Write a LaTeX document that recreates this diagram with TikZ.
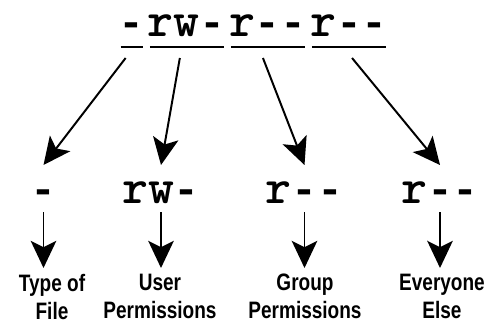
\documentclass[tikz,border=0pt]{standalone}
\usepackage{fontspec}
\newfontfamily\labelfont{Liberation Sans}[FakeStretch=0.8]
\newfontfamily\dashfont{Liberation Mono}
\newcommand{\hy}{{\fontsize{30.7}{30.7}\selectfont\dashfont\bfseries-}}
\usetikzlibrary{arrows.meta,positioning,calc}

\begin{document}
\begin{tikzpicture}[x=0.025cm, y=0.025cm,
  perm/.style = {inner ysep=0pt, inner xsep=1pt, font=\fontsize{35.1}{35.1}\selectfont\ttfamily\bfseries},
  what/.style = {inner sep=0pt, align=center, font=\fontsize{16.9}{19.9}\selectfont\labelfont\bfseries},
  uline/.style = {line width=1.5pt},
  arrow/.style = {line width=1.4pt, -{Stealth[length=0.68cm, width=0.64cm, inset=0.16cm]}}
  ]
\useasboundingbox (0,0) rectangle (484,-329);

% Top row: the whole mode string
\node[perm, anchor=base west] (t1) at (117,-36) {\hy};
\node[perm, anchor=base west] (t2) at (t1.base east) {rw\hy};
\node[perm, anchor=base west] (t3) at (t2.base east) {r\hy\hy};
\node[perm, anchor=base west] (t4) at (t3.base east) {r\hy\hy};

\foreach \n in {t1,t2,t3,t4}
  \draw[uline] ([shift={(3.5,-11)}]\n.base west) -- ([shift={(-3.5,-11)}]\n.base east);

% Middle row: the four parts
\node[perm, anchor=base] (m1) at (43.5,-203) {\hy};
\node[perm, anchor=base] (m2) at (161,-203) {rw\hy};
\node[perm, anchor=base] (m3) at (304.5,-203) {r\hy\hy};
\node[perm, anchor=base] (m4) at (440,-203) {r\hy\hy};

% Bottom row: what each part means
\node[what, anchor=north] (l1) at (52,-274) {Type of\\File};
\node[what, anchor=north] (l2) at (160,-274) {User\\Permissions};
\node[what, anchor=north] (l3) at (305,-274) {Group\\Permissions};
\node[what, anchor=north] (l4) at (442,-274) {Everyone\\Else};

% Draw arrows
\foreach \a/\b/\d in {t1/m1/-6, t2/m2/-7, t3/m3/-5, t4/m4/3}
  \draw[arrow] ([shift={(\d,-22)}]\a.base) -- ([shift={(0,38)}]\b.base);

\foreach \b/\c in {m1/l1, m2/l2, m3/l3, m4/l4}
  \draw[arrow] ([shift={(0,-9)}]\b.base) -- ($(\b.base |- \c.north)+(0,6)$);
\end{tikzpicture}
\end{document}
